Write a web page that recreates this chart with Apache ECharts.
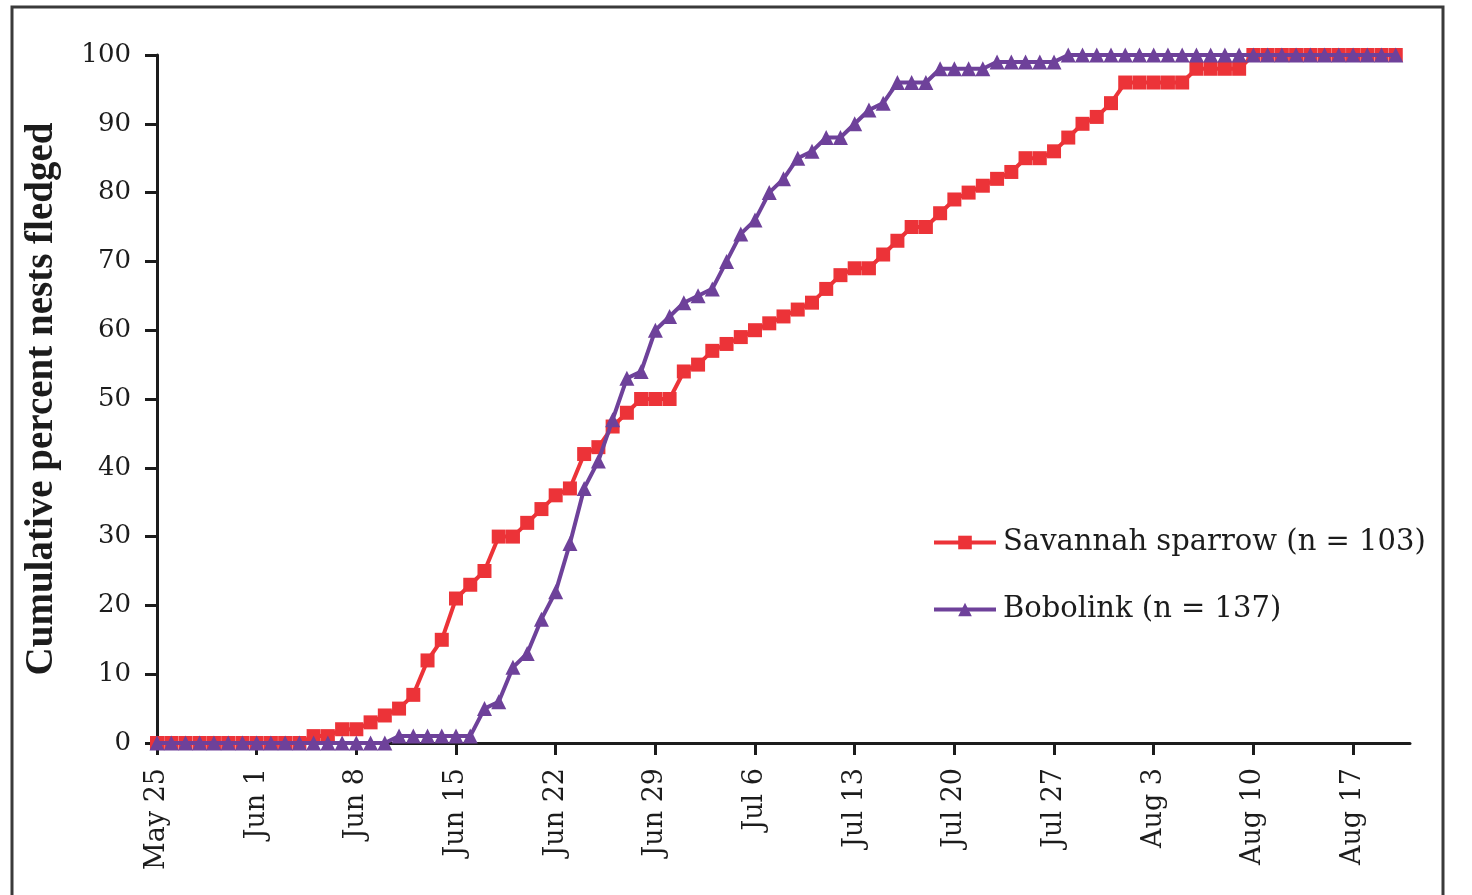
<!DOCTYPE html>
<html>
<head>
<meta charset="utf-8">
<script src="https://cdn.jsdelivr.net/npm/echarts/dist/echarts.min.js"></script>
<style>
  html, body { margin: 0; padding: 0; background: #ffffff; }
  #chart { width: 1472px; height: 895px; }
</style>
</head>
<body>
<div id="chart"></div>
<script>
// Daily categories, 25 May through 21 Aug (89 days)
const MONTHS = ['Jan','Feb','Mar','Apr','May','Jun','Jul','Aug','Sep','Oct','Nov','Dec'];
const START = Date.UTC(2000, 4, 25);
const dayCount = 89;
const days = [];
for (let i = 0; i < dayCount; i++) {
  const d = new Date(START + i * 86400000);
  days.push(MONTHS[d.getUTCMonth()] + ' ' + d.getUTCDate());
}

// Cumulative percent of nests fledged, one value per day from 25 May
const savannahSparrow = [
  0, 0, 0, 0, 0, 0, 0, 0, 0, 0, 0,
  1, 1, 2, 2, 3, 4, 5, 7, 12, 15,
  21, 23, 25, 30, 30, 32, 34, 36, 37, 42,
  43, 46, 48, 50, 50, 50, 54, 55, 57, 58,
  59, 60, 61, 62, 63, 64, 66, 68, 69, 69,
  71, 73, 75, 75, 77, 79, 80, 81, 82, 83,
  85, 85, 86, 88, 90, 91, 93,
  96, 96, 96, 96, 96,
  98, 98, 98, 98,
  100, 100, 100, 100, 100, 100, 100, 100, 100, 100, 100
];

const bobolink = [
  0, 0, 0, 0, 0, 0, 0, 0, 0, 0, 0, 0, 0, 0, 0, 0, 0,
  1, 1, 1, 1, 1, 1,
  5, 6, 11, 13, 18, 22, 29, 37, 41, 47,
  53, 54, 60, 62, 64, 65, 66, 70, 74, 76,
  80, 82, 85, 86, 88, 88, 90, 92, 93,
  96, 96, 96,
  98, 98, 98, 98,
  99, 99, 99, 99, 99,
  100, 100, 100, 100, 100, 100, 100, 100, 100, 100, 100, 100,
  100, 100, 100, 100, 100, 100, 100, 100, 100, 100, 100, 100
];

const seriesNames = ['Savannah sparrow (n = 103)', 'Bobolink (n = 137)'];
const seriesColors = ['#ec3338', '#6e419a'];
const yAxisTitle = 'Cumulative percent nests fledged';

const INK = '#1c1c1c';
const SERIF = 'DejaVu Serif';
const weekly = (i) => i % 7 === 0;

const chart = echarts.init(document.getElementById('chart'), null, { renderer: 'canvas' });

chart.setOption({
  animation: false,
  backgroundColor: '#ffffff',
  grid: { left: 157, right: 62, top: 55, bottom: 152, containLabel: false },
  xAxis: {
    type: 'category',
    data: days,
    boundaryGap: false,
    axisLine: { show: true, lineStyle: { color: INK, width: 3 } },
    axisTick: { show: true, interval: weekly, length: 12, lineStyle: { color: INK, width: 3 } },
    axisLabel: {
      interval: weekly,
      rotate: 90,
      margin: 25,
      fontFamily: SERIF,
      fontSize: 27,
      color: INK
    },
    splitLine: { show: false }
  },
  yAxis: {
    type: 'value',
    min: 0,
    max: 100,
    interval: 10,
    name: yAxisTitle,
    nameLocation: 'middle',
    nameGap: 96,
    nameTextStyle: {
      fontFamily: 'Liberation Serif',
      fontWeight: 'bold',
      fontSize: 39,
      color: INK
    },
    axisLine: { show: true, lineStyle: { color: INK, width: 3 } },
    axisTick: { show: true, length: 12, lineStyle: { color: INK, width: 3 } },
    axisLabel: { margin: 26, fontFamily: SERIF, fontSize: 26, color: INK },
    splitLine: { show: false }
  },
  legend: {
    orient: 'vertical',
    left: 927,
    top: 523,
    itemWidth: 62,
    itemHeight: 17,
    itemGap: 38,
    lineStyle: { width: 4 },
    textStyle: { fontFamily: SERIF, fontSize: 29, color: INK, padding: [0, 0, 0, 2] },
    data: seriesNames
  },
  series: [
    {
      name: seriesNames[0],
      type: 'line',
      data: savannahSparrow,
      symbol: 'rect',
      symbolSize: 14,
      showSymbol: true,
      showAllSymbol: true,
      lineStyle: { color: seriesColors[0], width: 4 },
      itemStyle: { color: seriesColors[0] },
      z: 2
    },
    {
      name: seriesNames[1],
      type: 'line',
      data: bobolink,
      symbol: 'triangle',
      symbolSize: 15,
      showSymbol: true,
      showAllSymbol: true,
      lineStyle: { color: seriesColors[1], width: 4 },
      itemStyle: { color: seriesColors[1] },
      z: 3
    }
  ],
  graphic: [
    {
      type: 'rect',
      silent: true,
      shape: { x: 12, y: 7, width: 1431, height: 905 },
      style: { fill: 'none', stroke: '#3a3a3a', lineWidth: 3 }
    }
  ]
});
</script>
</body>
</html>
